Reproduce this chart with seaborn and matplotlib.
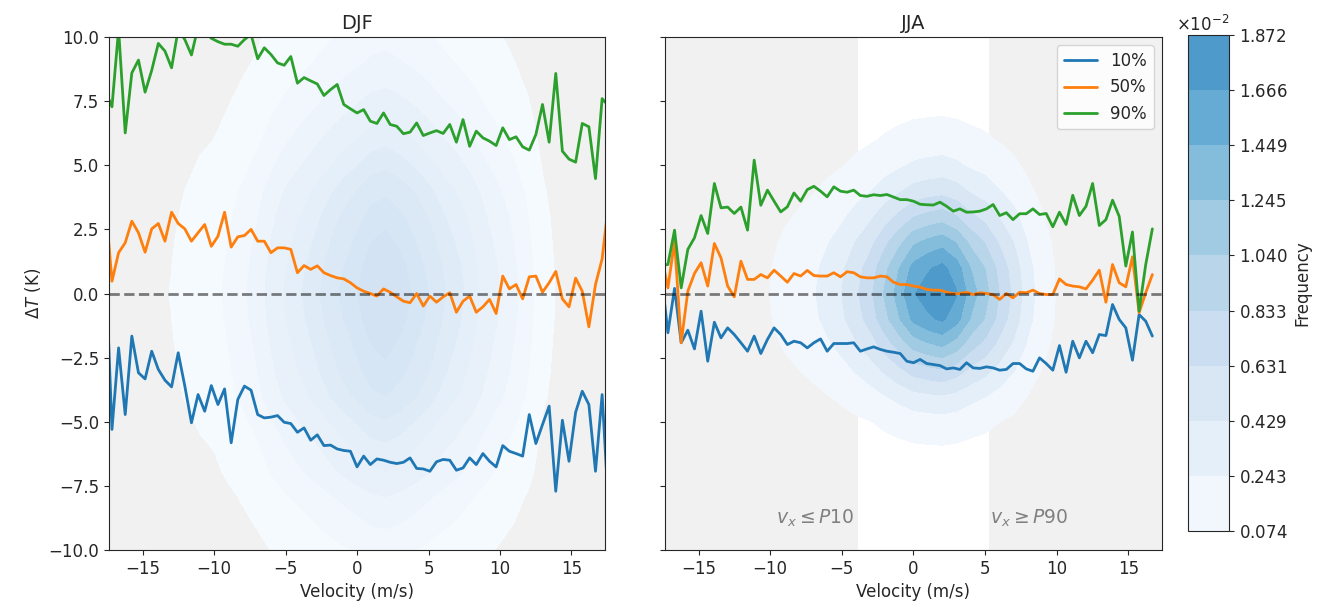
import numpy as np
import pandas as pd
import matplotlib
matplotlib.use("Agg")
import matplotlib.pyplot as plt
from matplotlib.colors import ListedColormap, Normalize
from matplotlib.ticker import ScalarFormatter
import seaborn as sns

sns.set_style("ticks")
plt.rcParams["font.size"] = 12

# velocity bin centres (m/s), k = -38 ... 38
velocity = np.arange(-38, 39) * 0.4634
quantiles = ["10%", "50%", "90%"]

# ---- DJF quantile curves of delta T (K)
djf_p10 = [1.5, -5.30, -2.12, -4.72, -1.66, -3.09, -3.33, -2.25, -2.96, -3.38,
           -3.64, -2.31, -3.61, -5.04, -3.94, -4.59, -3.59, -4.33, -3.72, -5.82,
           -4.13, -3.61, -3.77, -4.72, -4.85, -4.82, -4.76, -5.02, -5.07, -5.41,
           -5.24, -5.72, -5.51, -5.93, -5.91, -6.06, -6.12, -6.15, -6.76, -6.34,
           -6.67, -6.45, -6.50, -6.58, -6.63, -6.58, -6.41, -6.82, -6.84, -6.93,
           -6.56, -6.47, -6.50, -6.89, -6.80, -6.41, -6.67, -6.24, -6.54, -6.76,
           -5.93, -6.15, -6.24, -6.34, -4.72, -5.85, -5.11, -4.39, -7.71, -4.94,
           -6.54, -4.63, -3.81, -4.33, -6.93, -3.94, -8.5]
djf_p50 = [3.6, 0.48, 1.59, 1.98, 2.82, 2.37, 1.61, 2.52, 2.73, 2.04,
           3.17, 2.73, 2.52, 2.04, 2.37, 2.69, 1.84, 2.23, 3.17, 1.81,
           2.21, 2.26, 2.50, 2.04, 2.04, 1.59, 1.78, 1.78, 1.72, 0.81,
           1.09, 0.94, 1.08, 0.81, 0.70, 0.61, 0.57, 0.42, 0.22, 0.09,
           0.00, -0.10, 0.18, 0.05, -0.13, -0.30, -0.36, 0.00, -0.49, -0.10,
           -0.34, -0.13, 0.03, -0.73, -0.30, -0.10, -0.73, -0.52, -0.23, -0.78,
           0.68, 0.18, 0.35, -0.21, 0.65, 0.68, 0.05, 0.42, 0.86, -0.21,
           -0.52, 0.60, 0.09, -1.30, 0.35, 1.35, 3.6]
djf_p90 = [7.9, 7.28, 10.3, 6.26, 8.60, 9.10, 7.85, 8.70, 9.75, 9.45,
           8.80, 10.3, 9.90, 9.30, 10.4, 10.2, 9.95, 9.82, 9.72, 9.72,
           9.64, 9.90, 10.1, 9.15, 9.58, 9.32, 8.99, 8.90, 9.24, 8.20,
           8.42, 8.29, 8.17, 7.72, 7.95, 8.15, 7.37, 7.20, 7.04, 7.17,
           6.72, 6.63, 7.04, 6.59, 6.52, 6.23, 6.29, 6.65, 6.16, 6.26,
           6.35, 6.24, 6.59, 5.90, 6.78, 5.74, 6.33, 6.07, 5.94, 5.77,
           6.46, 6.00, 6.11, 5.72, 5.59, 6.20, 7.37, 5.90, 8.58, 5.55,
           5.24, 5.12, 6.63, 6.50, 4.48, 7.60, 7.30]

# ---- JJA quantile curves of delta T (K), last two bins empty
nan = np.nan
jja_p10 = [0.8, -1.53, 0.20, -1.92, -1.43, -2.16, -0.69, -2.64, -1.12, -1.73,
           -1.34, -1.60, -1.92, -2.25, -1.66, -2.34, -1.79, -1.34, -1.60, -1.99,
           -1.86, -1.92, -2.12, -1.92, -1.77, -2.25, -1.95, -1.95, -1.95, -1.92,
           -2.25, -2.16, -2.08, -2.18, -2.25, -2.29, -2.34, -2.64, -2.70, -2.57,
           -2.73, -2.77, -2.81, -2.94, -2.90, -2.96, -2.70, -2.90, -2.92, -2.86,
           -2.90, -2.99, -2.96, -2.73, -2.73, -2.94, -3.03, -2.51, -2.73, -2.99,
           -2.03, -3.07, -1.86, -2.51, -1.86, -2.31, -1.60, -1.64, -0.43, -1.01,
           -1.34, -2.60, -0.82, -1.08, -1.66, nan, nan]
jja_p50 = [1.5, 0.22, 2.04, -1.92, 0.09, 0.78, 1.20, 0.29, 1.95, 1.39,
           0.29, -0.13, 1.26, 0.55, 0.55, 0.74, 0.61, 0.91, 0.68, 0.44,
           0.78, 0.68, 0.90, 0.70, 0.68, 0.68, 0.81, 0.65, 0.85, 0.81,
           0.65, 0.61, 0.61, 0.68, 0.65, 0.44, 0.35, 0.35, 0.29, 0.25,
           0.16, 0.13, 0.13, 0.05, -0.01, 0.00, 0.05, -0.04, 0.03, 0.00,
           -0.04, -0.23, 0.00, -0.17, 0.05, 0.03, 0.13, 0.00, -0.04, -0.04,
           0.57, 0.35, 0.29, 0.26, 0.18, 0.52, 0.91, -0.34, 1.13, 0.42,
           0.26, 1.43, -0.75, 0.03, 0.74, nan, nan]
jja_p90 = [1.1, 1.13, 2.47, 0.22, 1.72, 2.17, 3.04, 2.34, 4.29, 3.34,
           3.37, 3.12, 3.37, 2.47, 5.20, 3.44, 4.03, 3.60, 3.18, 3.38,
           3.92, 3.60, 4.05, 4.18, 3.99, 3.77, 4.16, 3.99, 3.95, 4.03,
           3.82, 3.79, 3.85, 3.82, 3.86, 3.76, 3.66, 3.66, 3.60, 3.48,
           3.46, 3.45, 3.56, 3.40, 3.21, 3.30, 3.17, 3.18, 3.21, 3.30,
           3.47, 3.04, 3.15, 2.88, 3.11, 3.11, 3.30, 3.08, 3.12, 2.60,
           3.17, 2.69, 3.83, 3.04, 3.40, 4.29, 2.65, 2.88, 3.64, 3.01,
           1.07, 2.40, -0.69, 1.13, 2.52, nan, nan]

# ---- joint frequency: marginal profiles read along the axes through the peak
grid_v = np.arange(-18, 19)      # m/s
grid_dt = np.arange(-10, 11)     # K
djf_prof_v = [0.04, 0.05, 0.065, 0.08, 0.095, 0.11, 0.14, 0.17, 0.19, 0.235,
              0.29, 0.35, 0.44, 0.52, 0.59, 0.66, 0.74, 0.82, 0.89, 0.97,
              1.0, 0.95, 0.88, 0.80, 0.71, 0.64, 0.56, 0.47, 0.40, 0.33,
              0.25, 0.15, 0.10, 0.08, 0.06, 0.05, 0.04]
djf_prof_dt = [0.25, 0.32, 0.39, 0.50, 0.58, 0.68, 0.80, 0.87, 0.92, 0.97, 1.0,
               0.97, 0.92, 0.86, 0.78, 0.67, 0.57, 0.48, 0.40, 0.33, 0.28]
jja_prof_v = [0, 0, 0, 0, 0, 0.001, 0.005, 0.02, 0.04, 0.065,
              0.09, 0.12, 0.17, 0.23, 0.32, 0.42, 0.57, 0.72, 0.88, 0.95,
              1.0, 0.90, 0.72, 0.60, 0.445, 0.31, 0.17, 0.085, 0.035, 0.015,
              0.005, 0.001, 0, 0, 0, 0, 0]
jja_prof_dt = [0, 0, 0.002, 0.01, 0.035, 0.09, 0.22, 0.43, 0.68, 0.91, 1.0,
               0.92, 0.73, 0.50, 0.30, 0.16, 0.08, 0.035, 0.012, 0.003, 0]

# contour levels (x 1e-2)
jja_levels = np.array([0.074, 0.243, 0.429, 0.631, 0.833, 1.040, 1.245,
                       1.449, 1.666, 1.872]) * 1e-2
djf_levels = np.array([0.07, 0.14, 0.20, 0.26, 0.33, 0.39, 0.45, 0.52,
                       0.58, 0.65]) * 1e-2

# P10 / P90 velocity thresholds
djf_edges = (-5.2, 7.0)
jja_edges = (-3.9, 5.3)

cmap = ListedColormap(plt.get_cmap("Blues")(np.linspace(0, 0.62, 256)))
norm = Normalize(vmin=jja_levels[0], vmax=jja_levels[-1])
colors = ["tab:blue", "tab:orange", "tab:green"]
xlim = (-17.35, 17.35)


def long_form(p10, p50, p90):
    frames = []
    for q, vals in zip(quantiles, [p10, p50, p90]):
        frames.append(pd.DataFrame({"velocity": velocity, "dT": vals, "q": q}))
    return pd.concat(frames, ignore_index=True).dropna()


def draw_panel(ax, title, curves, prof_v, prof_dt, levels, edges, legend):
    ax.axvspan(xlim[0] - 1, edges[0], color="0.945", lw=0, zorder=0)
    ax.axvspan(edges[1], xlim[1] + 1, color="0.945", lw=0, zorder=0)
    table = levels[-1] * np.outer(prof_dt, prof_v)
    cs = ax.contourf(grid_v, grid_dt, table, levels=levels, cmap=cmap,
                     norm=norm, zorder=1)
    sns.lineplot(data=curves, x="velocity", y="dT", hue="q", palette=colors,
                 estimator=None, sort=False, lw=2, ax=ax, legend=legend,
                 zorder=2)
    ax.axhline(0, color="k", ls="--", lw=2, alpha=0.5, zorder=3)
    ax.set_xlim(*xlim)
    ax.set_ylim(-10, 10)
    ax.set_title(title, fontsize=14)
    ax.set_xlabel("Velocity (m/s)")
    ax.set_xticks([-15, -10, -5, 0, 5, 10, 15])
    ax.set_yticks(np.arange(-10, 10.1, 2.5))
    return cs


fig = plt.figure(figsize=(13.38, 6.15), dpi=100)
ax1 = fig.add_axes([0.0815, 0.1057, 0.3707, 0.8341])
ax2 = fig.add_axes([0.497, 0.1057, 0.3714, 0.8341])
cax = fig.add_axes([0.888, 0.1366, 0.0306, 0.8065])

draw_panel(ax1, "DJF", long_form(djf_p10, djf_p50, djf_p90),
           djf_prof_v, djf_prof_dt, djf_levels, djf_edges, False)
cs = draw_panel(ax2, "JJA", long_form(jja_p10, jja_p50, jja_p90),
                jja_prof_v, jja_prof_dt, jja_levels, jja_edges, True)

ax1.set_ylabel(r"$\Delta T$ (K)")
ax2.set_ylabel("")
ax2.tick_params(labelleft=False)

h, l = ax2.get_legend_handles_labels()
ax2.legend(h, l, loc="upper right", fontsize=12)

ax2.text(jja_edges[0] - 0.25, -8.75, r"$v_x \leq P10$", ha="right",
         va="center", color="grey", fontsize=13.5, zorder=4)
ax2.text(jja_edges[1] + 0.05, -8.75, r"$v_x \geq P90$", ha="left",
         va="center", color="grey", fontsize=13.5, zorder=4)

cb = fig.colorbar(cs, cax=cax, ticks=jja_levels)
fmt = ScalarFormatter(useMathText=True)
fmt.set_powerlimits((0, 0))
cb.ax.yaxis.set_major_formatter(fmt)
cb.set_label("Frequency")

fig.savefig("out.png", dpi=100)
